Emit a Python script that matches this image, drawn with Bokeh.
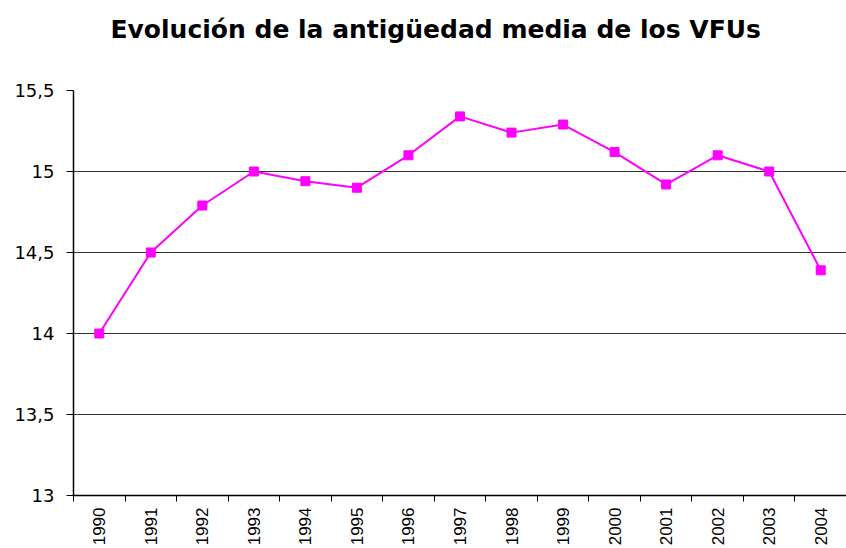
import math
from bokeh.plotting import figure
from bokeh.models import FixedTicker, CustomJSTickFormatter, Range1d, Title
from bokeh.embed import file_html
from bokeh.resources import INLINE

years = ["1990", "1991", "1992", "1993", "1994", "1995", "1996", "1997",
         "1998", "1999", "2000", "2001", "2002", "2003", "2004"]
antiguedad = [14.0, 14.5, 14.79, 15.0, 14.94, 14.9, 15.1, 15.34,
              15.24, 15.29, 15.12, 14.92, 15.1, 15.0, 14.39]
y_ticks = [13, 13.5, 14, 14.5, 15, 15.5]
title_text = "Evolución de la antigüedad media de los VFUs"

xs = [i + 0.5 for i in range(len(years))]

p = figure(width=846, height=548, output_backend="svg", toolbar_location=None,
           x_range=Range1d(0, len(years)), y_range=Range1d(13, 15.5),
           min_border_left=73, min_border_right=0, min_border_top=90,
           min_border_bottom=52)
p.outline_line_color = None
p.background_fill_color = "white"
p.border_fill_color = "white"

# spacer between the frame and the title (added first -> closest to frame)
spacer = Title(text=" ", align="left", standoff=34, text_font_size="10px",
               text_color="white")
p.add_layout(spacer, "above")
t = Title(text=title_text, align="left", offset=37, standoff=0,
          text_font="DejaVu Sans", text_font_size="25px",
          text_font_style="bold", text_color="black")
p.add_layout(t, "above")

p.line(xs, antiguedad, line_color="#FF00FF", line_width=2)
p.scatter(xs, antiguedad, marker="square", size=9, fill_color="#FF00FF",
          line_color="#FF00FF")

# y axis
p.yaxis.ticker = FixedTicker(ticks=y_ticks)
p.yaxis.formatter = CustomJSTickFormatter(code="return tick.toString().replace('.', ',');")
p.yaxis.axis_line_color = "black"
p.yaxis.axis_line_width = 1.5
p.yaxis.major_tick_line_color = "black"
p.yaxis.major_tick_in = 0
p.yaxis.major_tick_out = 7
p.yaxis.minor_tick_line_color = None
p.yaxis.major_label_text_font = "DejaVu Sans"
p.yaxis.major_label_text_font_size = "18px"
p.yaxis.major_label_text_color = "black"
p.yaxis.major_label_standoff = 12

# x axis
p.xaxis.ticker = FixedTicker(ticks=xs, minor_ticks=list(range(len(years) + 1)))
p.xaxis.formatter = CustomJSTickFormatter(args=dict(labels=years),
                                          code="return labels[Math.floor(tick)];")
p.xaxis.axis_line_color = "black"
p.xaxis.axis_line_width = 1.5
p.xaxis.major_tick_line_color = None
p.xaxis.minor_tick_line_color = "black"
p.xaxis.minor_tick_in = 0
p.xaxis.minor_tick_out = 6
p.xaxis.major_label_orientation = math.pi / 2
p.xaxis.major_label_text_font = "Liberation Sans"
p.xaxis.major_label_text_font_size = "17px"
p.xaxis.major_label_text_color = "black"
p.xaxis.major_label_standoff = 6

p.xgrid.grid_line_color = None
p.ygrid.ticker = FixedTicker(ticks=y_ticks)
p.ygrid.grid_line_color = "#333333"
p.ygrid.grid_line_width = 1

open("out.html", "w").write(file_html(p, INLINE))
